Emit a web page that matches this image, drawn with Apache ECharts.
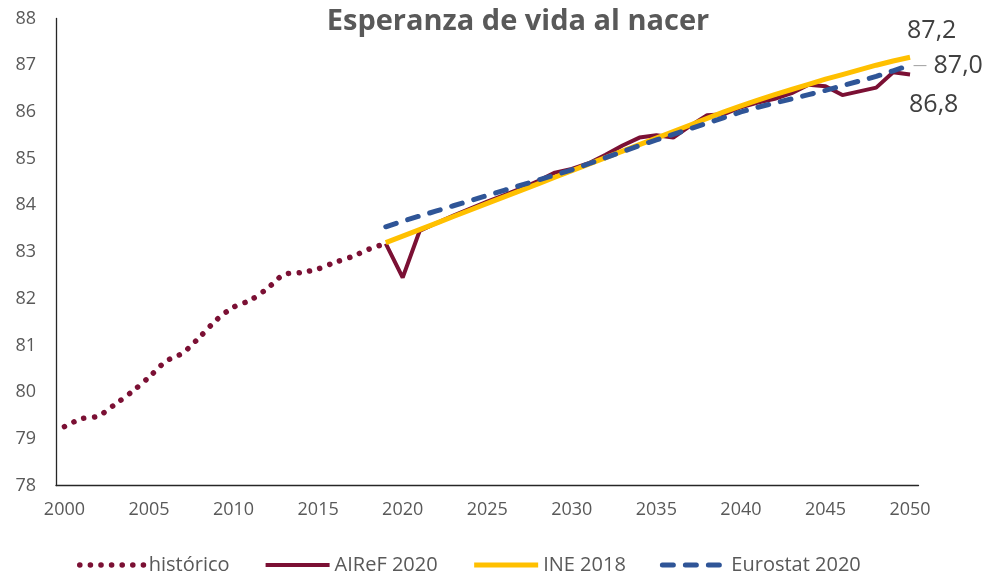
<!DOCTYPE html>
<html>
<head>
<meta charset="utf-8">
<script src="https://cdn.jsdelivr.net/npm/echarts@6/dist/echarts.min.js"></script>
<style>
  html, body { margin: 0; padding: 0; background: #fff; }
  #chart { width: 987px; height: 575px; }
</style>
</head>
<body>
<div id="chart"></div>
<script>
// Esperanza de vida al nacer - histórico y proyecciones (ECharts)

const years = [
    '2000', '2001', '2002', '2003', '2004', '2005', '2006', '2007', '2008', '2009',
    '2010', '2011', '2012', '2013', '2014', '2015', '2016', '2017', '2018', '2019',
    '2020', '2021', '2022', '2023', '2024', '2025', '2026', '2027', '2028', '2029',
    '2030', '2031', '2032', '2033', '2034', '2035', '2036', '2037', '2038', '2039',
    '2040', '2041', '2042', '2043', '2044', '2045', '2046', '2047', '2048', '2049',
    '2050'
];

// 2000-2019
const historico = [
    79.26, 79.43, 79.49, 79.74, 80.01, 80.32, 80.66, 80.84, 81.18, 81.55,
    81.82, 81.97, 82.22, 82.52, 82.56, 82.64, 82.78, 82.90, 83.06, 83.18
];

// 2019-2050
const airef = [
    83.18, 82.45, 83.45, 83.62, 83.78, 83.93, 84.08, 84.22, 84.36, 84.52,
    84.70, 84.78, 84.90, 85.08, 85.28, 85.45, 85.50, 85.45, 85.70, 85.93,
    85.95, 86.10, 86.20, 86.28, 86.40, 86.58, 86.55, 86.36, 86.44, 86.52,
    86.85, 86.80
];

const ine = [
    83.20, 83.34, 83.48, 83.62, 83.76, 83.90, 84.04, 84.18, 84.32, 84.46,
    84.60, 84.74, 84.88, 85.02, 85.16, 85.30, 85.44, 85.58, 85.72, 85.86,
    86.00, 86.13, 86.25, 86.37, 86.48, 86.59, 86.70, 86.80, 86.90, 87.00,
    87.09, 87.17
];

const eurostat = [
    83.54, 83.66, 83.77, 83.88, 83.99, 84.10, 84.21, 84.32, 84.43, 84.54,
    84.65, 84.76, 84.89, 85.02, 85.15, 85.28, 85.40, 85.52, 85.64, 85.76,
    85.88, 86.00, 86.10, 86.19, 86.28, 86.37, 86.46, 86.56, 86.66, 86.76,
    86.88, 87.00
];

const FONT = "'Open Sans', 'Liberation Sans', sans-serif";
const GRAY = '#595959';
const MAROON = '#7B1034';
const YELLOW = '#FFC000';
const BLUE = '#2F5597';

function fmt(v) {
    return Number(v).toFixed(1).replace('.', ',');
}

// pad a series to the full year range, starting at startIdx
function fromYear(arr, startIdx) {
    const out = [];
    for (let i = 0; i < years.length; i++) {
        const j = i - startIdx;
        out.push(j >= 0 && j < arr.length ? arr[j] : null);
    }
    return out;
}

function lastValue(p) {
    const v = Array.isArray(p.value) ? p.value[p.value.length - 1] : p.value;
    return fmt(v);
}

const start = years.indexOf('2019');
const endLabelBase = { show: true, color: '#404040', fontSize: 25, fontFamily: FONT, distance: 5 };

const chart = echarts.init(document.getElementById('chart'), null, { renderer: 'canvas' });

chart.setOption({
    backgroundColor: '#fff',
    animation: false,
    title: {
        text: 'Esperanza de vida al nacer',
        left: 513,
        top: 2,
        textAlign: 'center',
        textStyle: { color: GRAY, fontSize: 29, fontWeight: 'bold', fontFamily: FONT }
    },
    grid: { left: 56, right: 68.5, top: 18.5, bottom: 89.5 },
    legend: {
        left: 72,
        top: 550,
        itemWidth: 64,
        itemHeight: 14,
        itemGap: 34,
        itemStyle: { opacity: 0 },
        lineStyle: { width: 'inherit' },
        textStyle: { color: GRAY, fontSize: 20, fontFamily: FONT },
        data: ['histórico', 'AIReF 2020', 'INE 2018', 'Eurostat 2020']
    },
    xAxis: {
        type: 'category',
        data: years,
        boundaryGap: true,
        axisTick: { show: false },
        axisLine: { lineStyle: { color: '#262626', width: 1.3 } },
        axisLabel: { interval: 4, color: GRAY, fontSize: 18, fontFamily: FONT, margin: 15 }
    },
    yAxis: {
        type: 'value',
        min: 78,
        max: 88,
        interval: 1,
        splitLine: { show: false },
        axisTick: { show: false },
        axisLine: { show: true, lineStyle: { color: '#262626', width: 1.3 } },
        axisLabel: { color: GRAY, fontSize: 18, fontFamily: FONT, margin: 20 }
    },
    series: [
        {
            name: 'histórico',
            type: 'line',
            data: fromYear(historico, 0),
            symbol: 'none',
            smooth: 0.3,
            lineStyle: { color: MAROON, width: 5.5, type: [0.1, 10.5], cap: 'round' },
            itemStyle: { color: MAROON }
        },
        {
            name: 'AIReF 2020',
            type: 'line',
            data: fromYear(airef, start),
            symbol: 'none',
            lineStyle: { color: MAROON, width: 4 },
            itemStyle: { color: MAROON },
            endLabel: Object.assign({}, endLabelBase, { offset: [-6, 30], formatter: lastValue })
        },
        {
            name: 'INE 2018',
            type: 'line',
            data: fromYear(ine, start),
            symbol: 'none',
            lineStyle: { color: YELLOW, width: 5 },
            itemStyle: { color: YELLOW },
            endLabel: Object.assign({}, endLabelBase, { offset: [-8, -26], formatter: lastValue })
        },
        {
            name: 'Eurostat 2020',
            type: 'line',
            data: fromYear(eurostat, start),
            symbol: 'none',
            lineStyle: { color: BLUE, width: 5, type: [11, 12], cap: 'round' },
            itemStyle: { color: BLUE },
            endLabel: Object.assign({}, endLabelBase, {
                offset: [-2, 1],
                formatter: p => '{l|—} ' + lastValue(p),
                rich: { l: { color: '#a6a6a6', fontSize: 14, fontFamily: FONT } }
            })
        }
    ]
});
</script>
</body>
</html>
